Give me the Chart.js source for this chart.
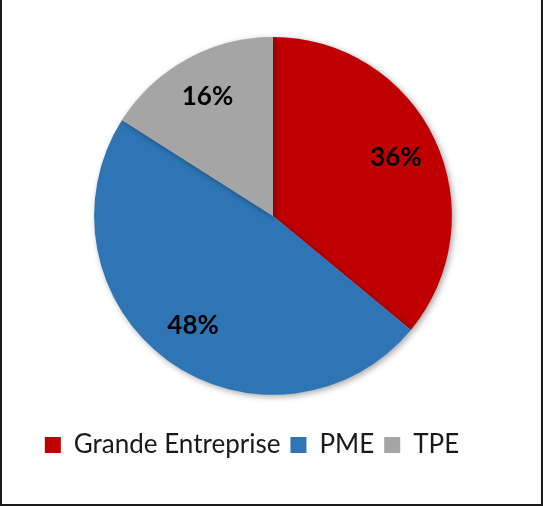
<!DOCTYPE html>
<html>
<head>
<meta charset="utf-8">
<script src="https://cdn.jsdelivr.net/npm/chart.js@4/dist/chart.umd.min.js"></script>
<style>
  html, body { margin: 0; padding: 0; background: #fff; }
  #frame {
    position: absolute; left: 0; top: 0; width: 539px; height: 504px;
    border-left: 2px solid #1a1a1a; border-right: 2px solid #1a1a1a; border-bottom: 2px solid #1a1a1a;
  }
  #wrap { position: absolute; left: 0; top: 0; width: 543px; height: 506px; }
</style>
</head>
<body>
<div id="frame"></div>
<div id="wrap"><canvas id="c" width="543" height="506"></canvas></div>
<script>
const categories = ['Grande Entreprise', 'PME', 'TPE'];
const shares = [36, 48, 16];
const sliceColors = ['#C00000', '#2E75B6', '#A5A5A5'];

// soft drop shadow under the slices
const shadowPlugin = {
  id: 'pieShadow',
  beforeDatasetsDraw(chart) {
    const ctx = chart.ctx;
    ctx.save();
    ctx.shadowColor = 'rgba(0,0,0,0.35)';
    ctx.shadowBlur = 6;
    ctx.shadowOffsetX = 2;
    ctx.shadowOffsetY = 2;
  },
  afterDatasetsDraw(chart) {
    chart.ctx.restore();
  }
};

// legend row sits a little left of the pie's centre line
const legendShift = {
  id: 'legendShift',
  afterLayout(chart) {
    const lg = chart.legend;
    lg.left -= 21;
    lg.right -= 21;
  }
};

// percentage labels inside each slice
const valueLabels = {
  id: 'valueLabels',
  afterDatasetsDraw(chart) {
    const ctx = chart.ctx;
    const meta = chart.getDatasetMeta(0);
    ctx.save();
    ctx.font = 'bold 26px Lato, sans-serif';
    ctx.fillStyle = '#000';
    ctx.textAlign = 'center';
    ctx.textBaseline = 'middle';
    meta.data.forEach((arc, i) => {
      const p = arc.getProps(['x', 'y', 'startAngle', 'endAngle', 'outerRadius'], true);
      const mid = (p.startAngle + p.endAngle) / 2;
      const r = p.outerRadius * 0.76;
      ctx.fillText(shares[i] + '%', p.x + Math.cos(mid) * r, p.y + Math.sin(mid) * r);
    });
    ctx.restore();
  }
};

new Chart(document.getElementById('c'), {
  type: 'pie',
  data: {
    labels: categories,
    datasets: [{
      data: shares,
      backgroundColor: sliceColors,
      borderWidth: 0
    }]
  },
  options: {
    responsive: false,
    animation: false,
    layout: { padding: { left: 3, right: 0, top: 37, bottom: 38 } },
    plugins: {
      tooltip: { enabled: false },
      legend: {
        position: 'bottom',
        title: { display: true, text: ' ', font: { size: 1 }, padding: { top: 26, bottom: 0 } },
        labels: {
          boxWidth: 16,
          boxHeight: 16,
          padding: 10,
          color: '#1a1a1a',
          font: { size: 26, family: 'Lato, sans-serif' }
        }
      }
    }
  },
  plugins: [shadowPlugin, legendShift, valueLabels]
});
</script>
</body>
</html>
